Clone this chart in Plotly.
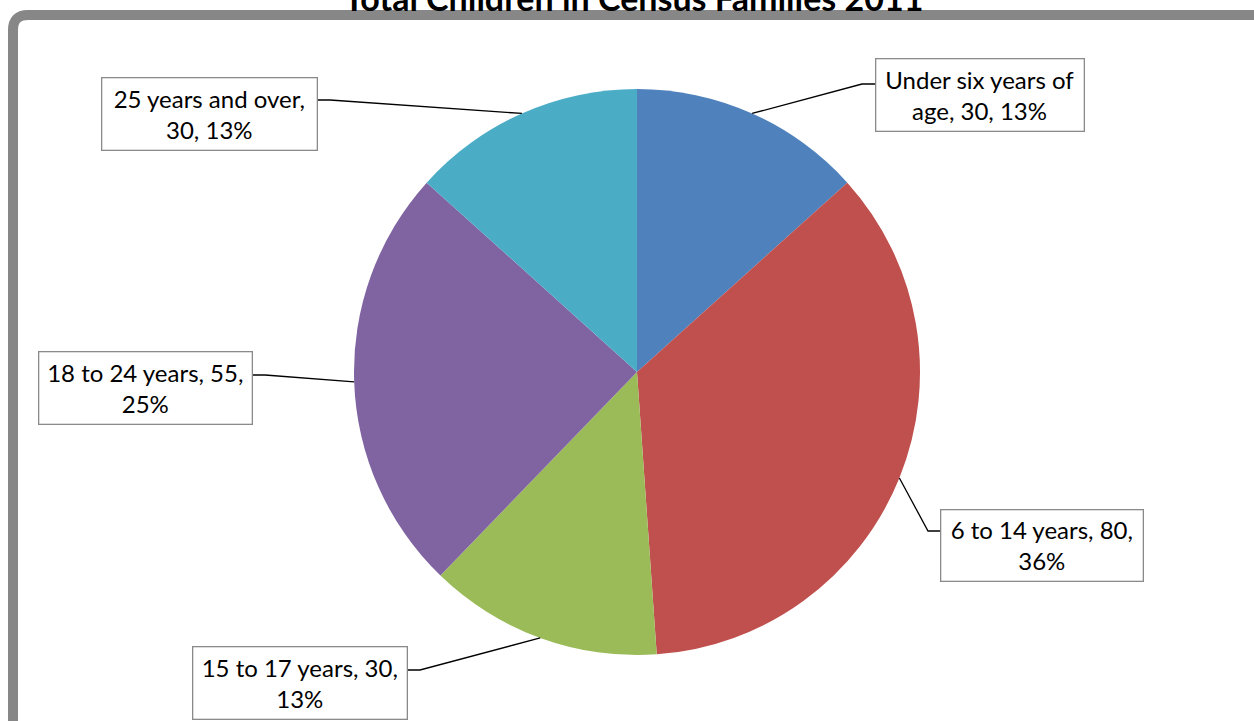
import textwrap
import numpy as np
from plotly import graph_objects as go

# data
categories = ['Under six years of age', '6 to 14 years', '15 to 17 years', '18 to 24 years', '25 years and over']
values = [30, 80, 30, 55, 30]
pct_labels = [13, 36, 13, 25, 13]
colors = ['#4F81BD', '#C0504D', '#9BBB59', '#8064A2', '#4BACC6']
title = 'Total Children in Census Families 2011'

W, H = 1254, 721
cx, cy, R = 637, 372, 283  # pie centre / radius in pixels

# label boxes: left, top, right, bottom (px), side the leader attaches, attach y, elbow x
boxes = [
    (875, 58, 1084, 131, 'left', 84, 862),
    (940, 508, 1143, 580, 'left', 531, 928),
    (192, 645, 407, 718, 'right', 670, 420),
    (38, 350, 252, 423, 'right', 375, 265),
    (101, 76, 317, 149, 'right', 100, 330),
]

px = lambda x: x / W
py = lambda y: 1 - y / H

fig = go.Figure(go.Pie(
    labels=categories, values=values, sort=False, direction='clockwise', rotation=0,
    marker=dict(colors=colors, line=dict(width=0)),
    textinfo='none', hoverinfo='label+value+percent', showlegend=False,
    domain=dict(x=[px(cx - R), px(cx + R)], y=[py(cy + R), py(cy - R)]),
))

shapes = []
# gray chart-area frame with rounded top-left corner
r = 0.012
fx, fy = px(13), py(15)
shapes.append(dict(type='path', xref='paper', yref='paper',
                   path=f'M {fx},-0.1 L {fx},{fy - r * W / H} Q {fx},{fy} {fx + r},{fy} L 1.1,{fy}',
                   line=dict(color='#878787', width=10)))

annotations = [dict(text=f'<b>{title}</b>', xref='paper', yref='paper', x=px(633), y=py(-3),
                    xanchor='center', yanchor='middle', showarrow=False,
                    font=dict(family='Lato', size=34, color='black'))]

total = sum(values)
cum = np.cumsum([0] + values)
for i, (cat, val, pct) in enumerate(zip(categories, values, pct_labels)):
    mid = (cum[i] + cum[i + 1]) / 2 / total * 2 * np.pi
    ex, ey = cx + R * np.sin(mid), cy - R * np.cos(mid)
    l, t, rr, b, side, ay, elx = boxes[i]
    bx = l if side == 'left' else rr
    shapes.append(dict(type='path', xref='paper', yref='paper',
                       path=f'M {px(ex)},{py(ey)} L {px(elx)},{py(ay)} L {px(bx)},{py(ay)}',
                       line=dict(color='black', width=1.3)))
    text = '<br>'.join(textwrap.wrap(f'{cat}, {val}, {pct}%', 19))
    annotations.append(dict(text=text, xref='paper', yref='paper',
                            x=px((l + rr) / 2), y=py((t + b) / 2 + 1), xanchor='center', yanchor='middle',
                            showarrow=False, align='center', width=rr - l - 8, height=b - t - 8,
                            borderpad=3, bordercolor='#8a8a8a', borderwidth=1.3, bgcolor='white',
                            font=dict(family='Lato', size=24, color='black')))

fig.update_layout(width=W, height=H, margin=dict(l=0, r=0, t=0, b=0),
                  paper_bgcolor='white', plot_bgcolor='white',
                  shapes=shapes, annotations=annotations)
# figure sits flush with the window corner
fig.write_html('out.html', config={'displayModeBar': False},
               post_script="document.body.style.margin='0';")
